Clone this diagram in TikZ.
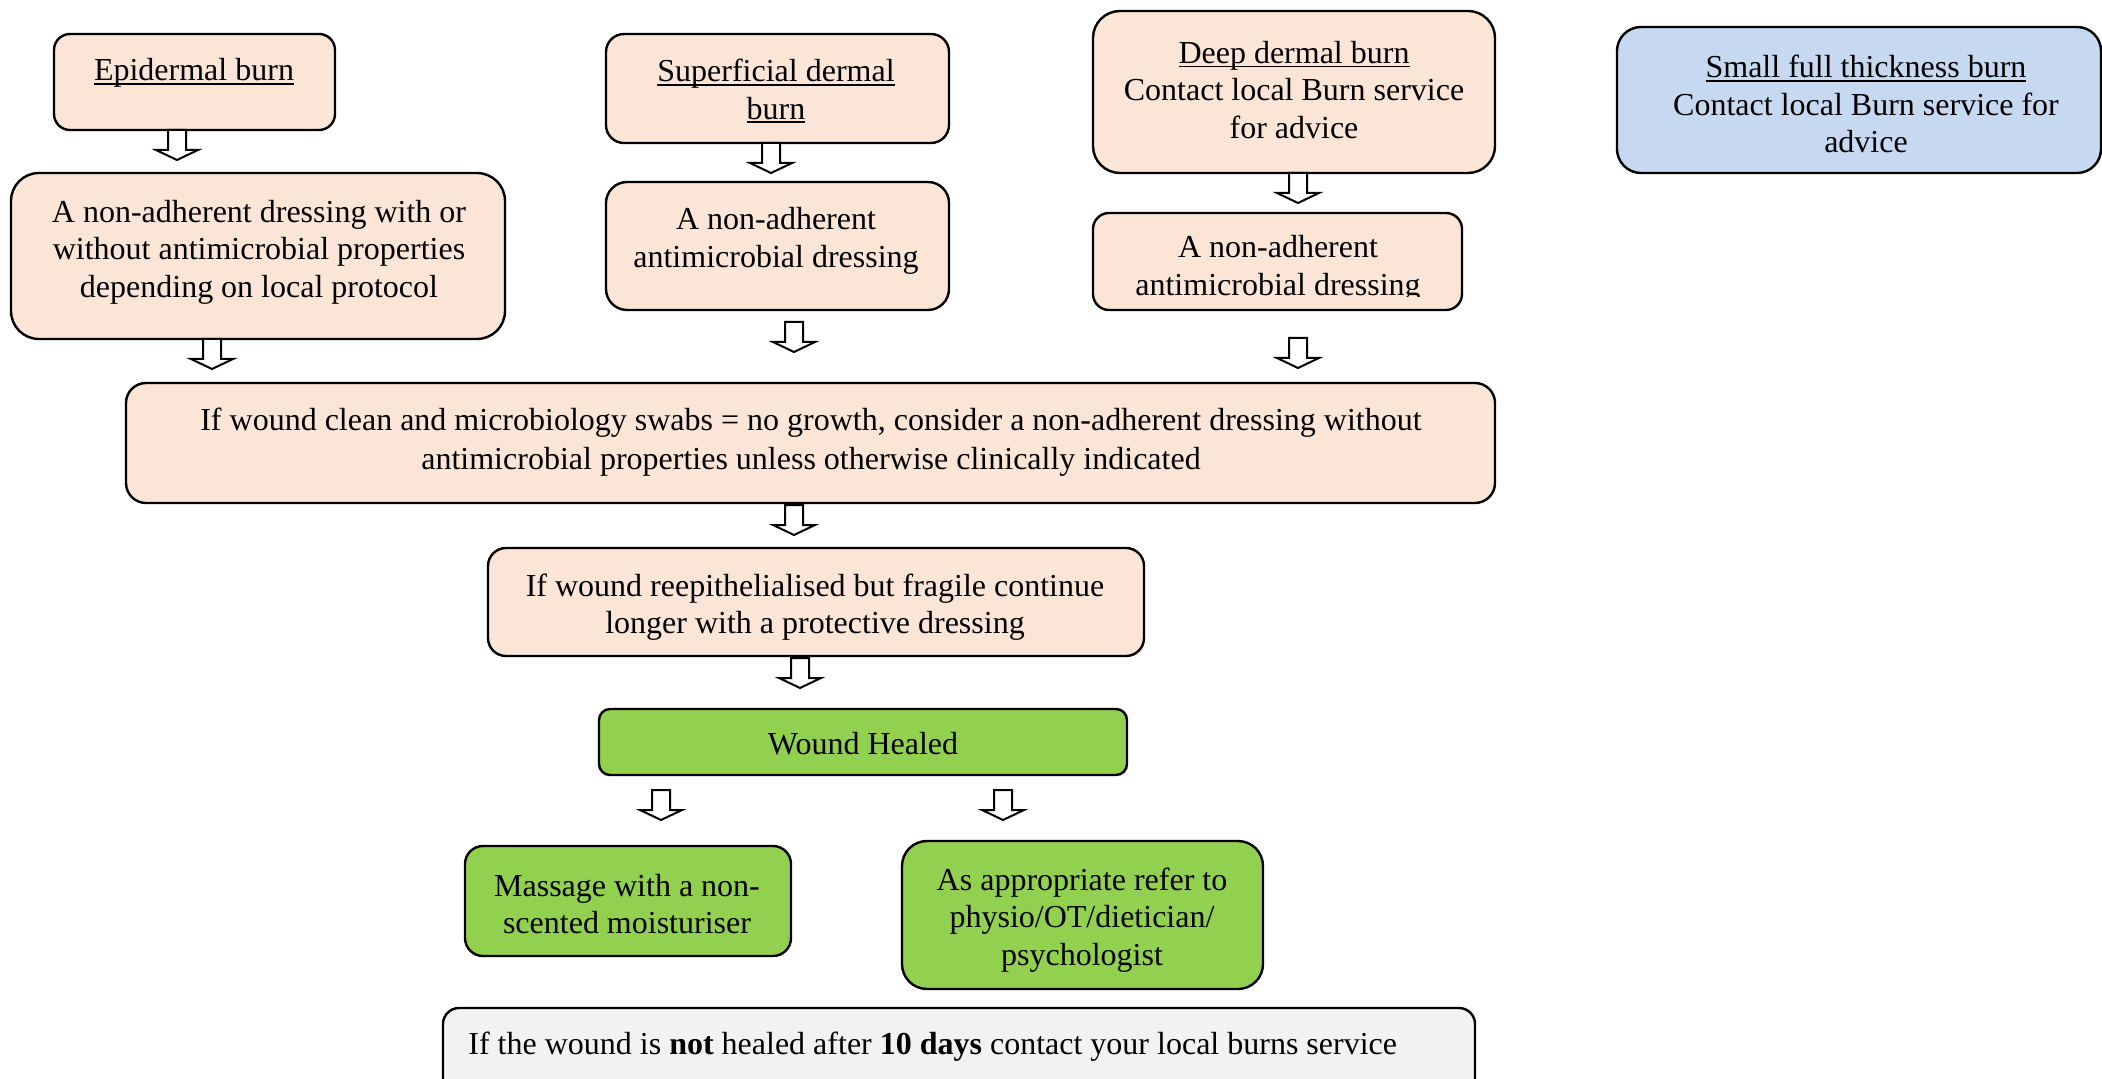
\documentclass[tikz,border=0pt]{standalone}
\usepackage{fontspec}
\setmainfont{Liberation Serif}
\usetikzlibrary{fit}
\definecolor{peach}{HTML}{FBE5D6}
\definecolor{lblue}{HTML}{C6D9F1}
\definecolor{lgreen}{HTML}{92D050}
\definecolor{lgrey}{HTML}{F2F2F2}
\newcommand\myul[1]{\setbox0\hbox{#1}\rlap{\rule[-2pt]{\wd0}{0.8pt}}\box0}
\begin{document}
\begin{tikzpicture}[x=0.5pt,y=-0.5pt,
  box/.style={draw=black, line width=1.2pt, inner sep=0pt},
  pbox/.style={box, fill=peach},
  bbox/.style={box, fill=lblue},
  gbox/.style={box, fill=lgreen},
  ybox/.style={box, fill=lgrey},
  txt/.style={inner sep=0pt, align=center, font=\fontsize{16pt}{18.75pt}\selectfont},
  barrow/.pic={\draw[line width=1pt, fill=white, line join=miter]
     (-9,0) -- (9,0) -- (9,20) -- (21,20) -- (0,30) -- (-21,20) -- (-9,20) -- cycle;}
]
\useasboundingbox[fill=white] (0,0) rectangle (2102,1079);

% boxes
\node[pbox, rounded corners=8pt,    fit={(54,34) (335,130)}]     (e1) {};
\node[pbox, rounded corners=9pt,    fit={(606,34) (949,143)}]    (s1) {};
\node[pbox, rounded corners=13.5pt, fit={(1093,11) (1495,173)}]  (d1) {};
\node[bbox, rounded corners=12pt,   fit={(1617,27) (2101,173)}]  (f1) {};
\node[pbox, rounded corners=14pt,   fit={(11,173) (505,339)}]    (e2) {};
\node[pbox, rounded corners=10.5pt, fit={(606,182) (949,310)}]   (s2) {};
\node[pbox, rounded corners=8pt,    fit={(1093,213) (1462,310)}] (d2) {};
\node[pbox, rounded corners=10pt,   fit={(126,383) (1495,503)}]  (big) {};
\node[pbox, rounded corners=9pt,    fit={(488,548) (1144,656)}]  (re) {};
\node[gbox, rounded corners=5.5pt,  fit={(599,709) (1127,775)}]  (wh) {};
\node[gbox, rounded corners=9pt,    fit={(465,846) (791,956)}]   (ma) {};
\node[gbox, rounded corners=12.5pt, fit={(902,841) (1263,989)}]  (ap) {};
\node[ybox, rounded corners=8pt,    fit={(443,1008) (1475,1095)}] (bot) {};

% texts
\node[txt] (e1t) at (194,73) {\myul{Epidermal burn}};
\node[txt] (s1t) at (776,91) {\myul{Superficial dermal}\\\myul{burn}};
\node[txt] (d1t) at (1294,90) {\myul{Deep dermal burn}\\Contact local Burn service\\for advice};
\node[txt] (f1t) at (1866,104) {\myul{Small full thickness burn}\\Contact local Burn service for\\advice};
\node[txt] (e2t) at (259,252) {A non-adherent dressing with or\\without antimicrobial properties\\depending on local protocol};
\node[txt] (s2t) at (776,241) {A non-adherent\\antimicrobial dressing};
\begin{scope}
  \clip (1093,213) rectangle (1462,297);
  \node[txt] (d2t) at (1278,269) {A non-adherent\\antimicrobial dressing};
\end{scope}
\node[txt, font=\fontsize{16pt}{19.5pt}\selectfont] (bigt) at (811,442) {If wound clean and microbiology swabs = no growth, consider a non-adherent dressing without\\antimicrobial properties unless otherwise clinically indicated};
\node[txt] (ret) at (815,607) {If wound reepithelialised but fragile continue\\longer with a protective dressing};
\node[txt] (wht) at (863,744) {Wound Healed};
\node[txt] (mat) at (627,904) {Massage with a non-\\scented moisturiser};
\node[txt] (apt) at (1082,920) {As appropriate refer to\\physio/OT/dietician/\\psychologist};
\node[txt, anchor=west] (bott) at (468,1047) {If the wound is \textbf{not} healed after \textbf{10 days} contact your local burns service};

% block arrows
\pic (a1)  at (177,130)  {barrow};
\pic (a2)  at (771,143)  {barrow};
\pic (a3)  at (1298,173) {barrow};
\pic (a4)  at (212,339)  {barrow};
\pic (a5)  at (794,322)  {barrow};
\pic (a6)  at (1298,338) {barrow};
\pic (a7)  at (794,505)  {barrow};
\pic (a8)  at (800,658)  {barrow};
\pic (a9)  at (661,790)  {barrow};
\pic (a10) at (1003,790) {barrow};
\end{tikzpicture}
\end{document}
